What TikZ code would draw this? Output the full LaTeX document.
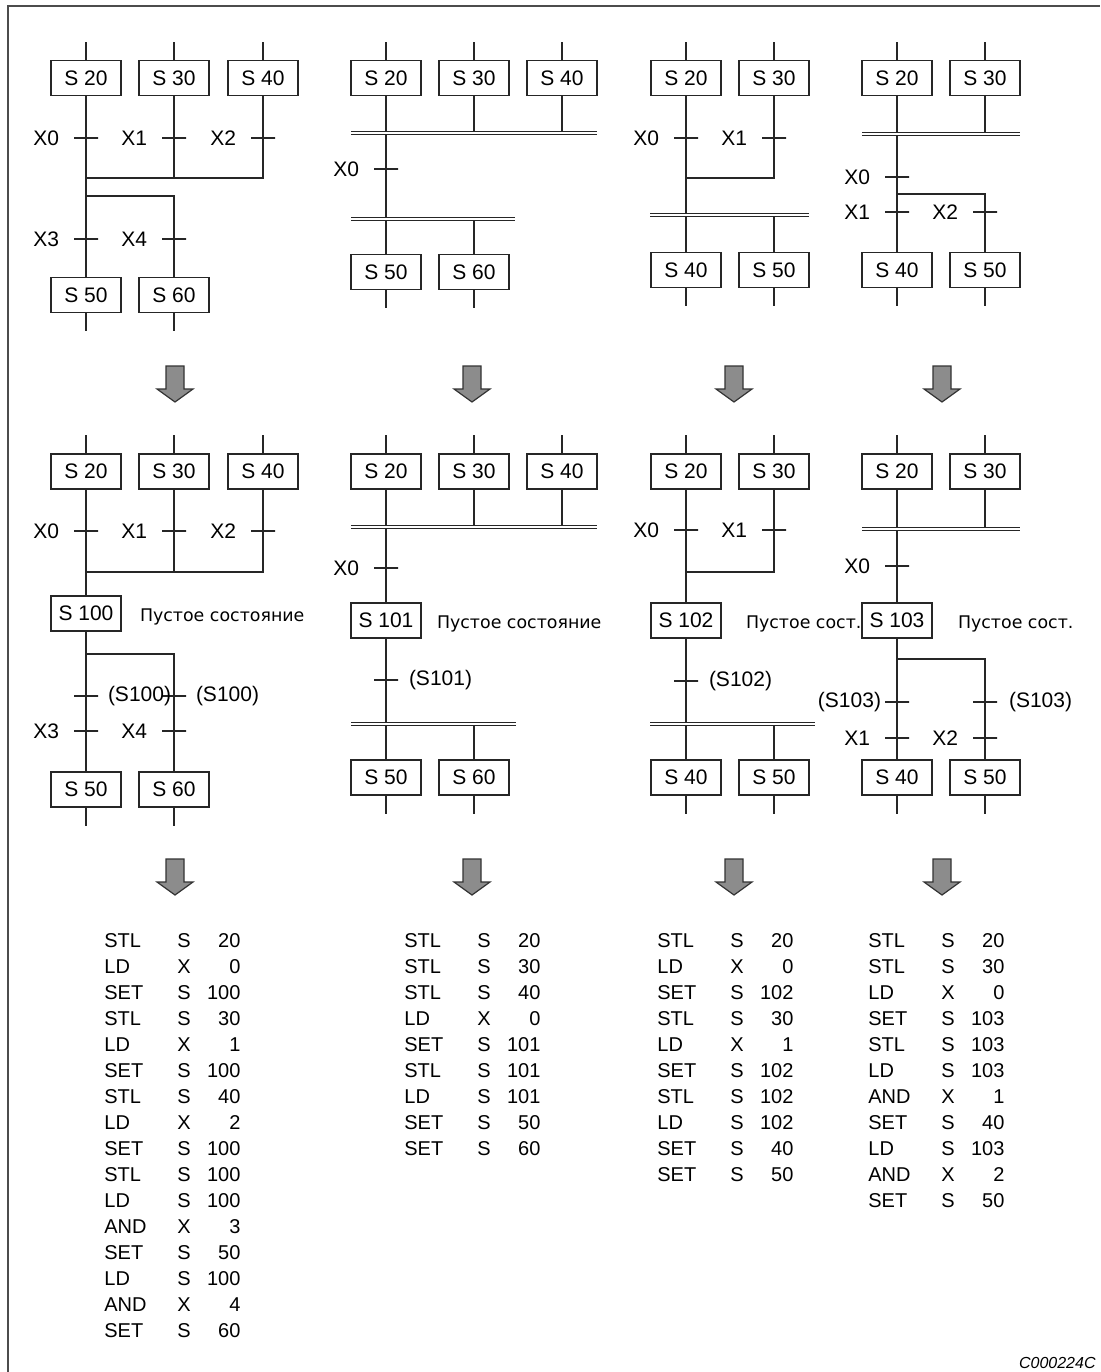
\documentclass[tikz,border=0pt]{standalone}
\usepackage{fontspec}
\setmainfont{Liberation Sans}
\newfontfamily\rusfont{DejaVu Sans}
\usetikzlibrary{positioning}
% fleche grise : #1 = x du centre, #2 = y du haut
\newcommand{\fleche}[2]{\filldraw[fill=black!45,draw=black!80,line width=0.6pt] (#1-9,#2) -- (#1+9,#2) -- (#1+9,#2+23) -- (#1+18,#2+23) -- (#1,#2+36) -- (#1-18,#2+23) -- (#1-9,#2+23) -- cycle;}
% ligne d'instruction
\newcommand{\instr}[3]{\makebox[36.5pt][l]{#1}\makebox[31.5pt]{#2\hfill#3}}
\begin{document}
\begin{tikzpicture}[x=0.5pt, y=-0.5pt,
    etat/.style={draw=black!85, line width=0.6pt, minimum width=35pt, minimum height=17.5pt, inner sep=0pt, font=\fontsize{10.5}{12}\selectfont},
    lbl/.style={inner sep=0pt, font=\fontsize{10.5}{12}\selectfont},
    tic/.style={draw=black!85, line width=0.6pt, minimum width=12pt, minimum height=0pt, inner sep=0pt},
    ligne/.style={draw=black!85, line width=0.6pt},
    barre/.style={draw=black!85, line width=0.5pt, double, double distance=1pt},
    vide/.style={inner sep=0pt, yshift=-1.8pt, font=\rusfont\fontsize{8.7}{10}\selectfont},
    liste/.style={inner sep=0pt, align=left, font=\fontsize{10}{13}\selectfont}]
\useasboundingbox (0,0) rectangle (1100,1372);
% Cadre
\draw[black!70, line width=1pt] (8,1372) -- (8,6) -- (1100,6);

% A1 : trois etats, divergence simple
\node[etat] (a1s20) at (86,78) {S 20};
\node[etat] (a1s30) at (174,78) {S 30};
\node[etat] (a1s40) at (263,78) {S 40};
\node[etat] (a1s50) at (86,295) {S 50};
\node[etat] (a1s60) at (174,295) {S 60};
\coordinate (a1m) at (86,178);
\coordinate (a1b) at (86,196);
\draw[ligne] (a1s20.north) -- ++(0,-18);
\draw[ligne] (a1s30.north) -- ++(0,-18);
\draw[ligne] (a1s40.north) -- ++(0,-18);
\draw[ligne] (a1s50.south) -- ++(0,18);
\draw[ligne] (a1s60.south) -- ++(0,18);
\draw[ligne] (a1s20) -- (a1s50);
\draw[ligne] (a1s30) -- (a1s30 |- a1m);
\draw[ligne] (a1s40.south) |- (a1m);
\draw[ligne] (a1b) -| (a1s60.north);
\node[tic] (a1t0) at (86,138) {};
\node[tic] (a1t1) at (174,138) {};
\node[tic] (a1t2) at (263,138) {};
\node[tic] (a1t3) at (86,239) {};
\node[tic] (a1t4) at (174,239) {};
\node[lbl, left=7pt of a1t0] (a1x0) {X0};
\node[lbl, left=7pt of a1t1] (a1x1) {X1};
\node[lbl, left=7pt of a1t2] (a1x2) {X2};
\node[lbl, left=7pt of a1t3] (a1x3) {X3};
\node[lbl, left=7pt of a1t4] (a1x4) {X4};

% B1 : convergence puis divergence paralleles
\node[etat] (b1s20) at (386,78) {S 20};
\node[etat] (b1s30) at (474,78) {S 30};
\node[etat] (b1s40) at (562,78) {S 40};
\node[etat] (b1s50) at (386,272) {S 50};
\node[etat] (b1s60) at (474,272) {S 60};
\coordinate (b1h) at (386,132.5);
\coordinate (b1k) at (386,218.5);
\draw[ligne] (b1s20.north) -- ++(0,-18);
\draw[ligne] (b1s30.north) -- ++(0,-18);
\draw[ligne] (b1s40.north) -- ++(0,-18);
\draw[ligne] (b1s50.south) -- ++(0,18);
\draw[ligne] (b1s60.south) -- ++(0,18);
\draw[ligne] (b1s20) -- (b1s50);
\draw[ligne] (b1s30) -- (b1s30 |- b1h);
\draw[ligne] (b1s40) -- (b1s40 |- b1h);
\draw[ligne] (b1s60) -- (b1s60 |- b1k);
\draw[barre] (351,132.5) -- (597,132.5);
\draw[barre] (351,218.5) -- (515,218.5);
\node[tic] (b1t0) at (386,169) {};
\node[lbl, left=7pt of b1t0] (b1x0) {X0};

% C1
\node[etat] (c1s20) at (686,78) {S 20};
\node[etat] (c1s30) at (774,78) {S 30};
\node[etat] (c1s40) at (686,270) {S 40};
\node[etat] (c1s50) at (774,270) {S 50};
\coordinate (c1m) at (686,178);
\coordinate (c1k) at (686,214.5);
\draw[ligne] (c1s20.north) -- ++(0,-18);
\draw[ligne] (c1s30.north) -- ++(0,-18);
\draw[ligne] (c1s40.south) -- ++(0,18);
\draw[ligne] (c1s50.south) -- ++(0,18);
\draw[ligne] (c1s20) -- (c1s40);
\draw[ligne] (c1s30.south) |- (c1m);
\draw[ligne] (c1s50) -- (c1s50 |- c1k);
\draw[barre] (650,214.5) -- (809,214.5);
\node[tic] (c1t0) at (686,138) {};
\node[tic] (c1t1) at (774,138) {};
\node[lbl, left=7pt of c1t0] (c1x0) {X0};
\node[lbl, left=7pt of c1t1] (c1x1) {X1};

% D1
\node[etat] (d1s20) at (897,78) {S 20};
\node[etat] (d1s30) at (985,78) {S 30};
\node[etat] (d1s40) at (897,270) {S 40};
\node[etat] (d1s50) at (985,270) {S 50};
\coordinate (d1h) at (897,133.5);
\coordinate (d1b) at (897,194);
\draw[ligne] (d1s20.north) -- ++(0,-18);
\draw[ligne] (d1s30.north) -- ++(0,-18);
\draw[ligne] (d1s40.south) -- ++(0,18);
\draw[ligne] (d1s50.south) -- ++(0,18);
\draw[ligne] (d1s20) -- (d1s40);
\draw[ligne] (d1s30) -- (d1s30 |- d1h);
\draw[ligne] (d1b) -| (d1s50.north);
\draw[barre] (862,133.5) -- (1020,133.5);
\node[tic] (d1t0) at (897,177) {};
\node[tic] (d1t1) at (897,212) {};
\node[tic] (d1t2) at (985,212) {};
\node[lbl, left=7pt of d1t0] (d1x0) {X0};
\node[lbl, left=7pt of d1t1] (d1x1) {X1};
\node[lbl, left=7pt of d1t2] (d1x2) {X2};

% Fleches
\fleche{175}{366}
\fleche{472}{366}
\fleche{734}{366}
\fleche{942}{366}

% A2 : avec etat vide S 100
\node[etat] (a2s20) at (86,471.5) {S 20};
\node[etat] (a2s30) at (174,471.5) {S 30};
\node[etat] (a2s40) at (263,471.5) {S 40};
\node[etat] (a2s100) at (86,613.5) {S 100};
\node[etat] (a2s50) at (86,789.5) {S 50};
\node[etat] (a2s60) at (174,789.5) {S 60};
\node[vide, right=9pt of a2s100] (a2v) {Пустое состояние};
\coordinate (a2m) at (86,572);
\coordinate (a2b) at (86,654);
\draw[ligne] (a2s20.north) -- ++(0,-18);
\draw[ligne] (a2s30.north) -- ++(0,-18);
\draw[ligne] (a2s40.north) -- ++(0,-18);
\draw[ligne] (a2s50.south) -- ++(0,18);
\draw[ligne] (a2s60.south) -- ++(0,18);
\draw[ligne] (a2s20) -- (a2s100);
\draw[ligne] (a2s30) -- (a2s30 |- a2m);
\draw[ligne] (a2s40.south) |- (a2m);
\draw[ligne] (a2s100) -- (a2s50);
\draw[ligne] (a2b) -| (a2s60.north);
\node[tic] (a2t0) at (86,531) {};
\node[tic] (a2t1) at (174,531) {};
\node[tic] (a2t2) at (263,531) {};
\node[tic] (a2t5) at (86,696) {};
\node[tic] (a2t6) at (174,696) {};
\node[tic] (a2t3) at (86,731) {};
\node[tic] (a2t4) at (174,731) {};
\node[lbl, left=7pt of a2t0] (a2x0) {X0};
\node[lbl, left=7pt of a2t1] (a2x1) {X1};
\node[lbl, left=7pt of a2t2] (a2x2) {X2};
\node[lbl, right=4.5pt of a2t5] (a2x5) {(S100)};
\node[lbl, right=4.5pt of a2t6] (a2x6) {(S100)};
\node[lbl, left=7pt of a2t3] (a2x3) {X3};
\node[lbl, left=7pt of a2t4] (a2x4) {X4};

% B2 : avec etat vide S 101
\node[etat] (b2s20) at (386,471.5) {S 20};
\node[etat] (b2s30) at (474,471.5) {S 30};
\node[etat] (b2s40) at (562,471.5) {S 40};
\node[etat] (b2s101) at (386,620.5) {S 101};
\node[etat] (b2s50) at (386,777.5) {S 50};
\node[etat] (b2s60) at (474,777.5) {S 60};
\node[vide, right=7.5pt of b2s101] (b2v) {Пустое состояние};
\coordinate (b2h) at (386,526.5);
\coordinate (b2k) at (386,723.5);
\draw[ligne] (b2s20.north) -- ++(0,-18);
\draw[ligne] (b2s30.north) -- ++(0,-18);
\draw[ligne] (b2s40.north) -- ++(0,-18);
\draw[ligne] (b2s50.south) -- ++(0,18);
\draw[ligne] (b2s60.south) -- ++(0,18);
\draw[ligne] (b2s20) -- (b2s101);
\draw[ligne] (b2s101) -- (b2s50);
\draw[ligne] (b2s30) -- (b2s30 |- b2h);
\draw[ligne] (b2s40) -- (b2s40 |- b2h);
\draw[ligne] (b2s60) -- (b2s60 |- b2k);
\draw[barre] (351,526.5) -- (597,526.5);
\draw[barre] (351,723.5) -- (516,723.5);
\node[tic] (b2t0) at (386,568) {};
\node[tic] (b2t5) at (386,680) {};
\node[lbl, left=7pt of b2t0] (b2x0) {X0};
\node[lbl, right=5pt of b2t5] (b2x5) {(S101)};

% C2 : avec etat vide S 102
\node[etat] (c2s20) at (686,471.5) {S 20};
\node[etat] (c2s30) at (774,471.5) {S 30};
\node[etat] (c2s102) at (686,620.5) {S 102};
\node[etat] (c2s40) at (686,777.5) {S 40};
\node[etat] (c2s50) at (774,777.5) {S 50};
\node[vide, right=12pt of c2s102] (c2v) {Пустое сост.};
\coordinate (c2m) at (686,572);
\coordinate (c2k) at (686,723.5);
\draw[ligne] (c2s20.north) -- ++(0,-18);
\draw[ligne] (c2s30.north) -- ++(0,-18);
\draw[ligne] (c2s40.south) -- ++(0,18);
\draw[ligne] (c2s50.south) -- ++(0,18);
\draw[ligne] (c2s20) -- (c2s102);
\draw[ligne] (c2s30.south) |- (c2m);
\draw[ligne] (c2s102) -- (c2s40);
\draw[ligne] (c2s50) -- (c2s50 |- c2k);
\draw[barre] (650,723.5) -- (815,723.5);
\node[tic] (c2t0) at (686,530) {};
\node[tic] (c2t1) at (774,530) {};
\node[tic] (c2t5) at (686,681) {};
\node[lbl, left=7pt of c2t0] (c2x0) {X0};
\node[lbl, left=7pt of c2t1] (c2x1) {X1};
\node[lbl, right=5pt of c2t5] (c2x5) {(S102)};

% D2 : avec etat vide S 103
\node[etat] (d2s20) at (897,471.5) {S 20};
\node[etat] (d2s30) at (985,471.5) {S 30};
\node[etat] (d2s103) at (897,620.5) {S 103};
\node[etat] (d2s40) at (897,777.5) {S 40};
\node[etat] (d2s50) at (985,777.5) {S 50};
\node[vide, right=12.5pt of d2s103] (d2v) {Пустое сост.};
\coordinate (d2h) at (897,528.5);
\coordinate (d2b) at (897,659);
\draw[ligne] (d2s20.north) -- ++(0,-18);
\draw[ligne] (d2s30.north) -- ++(0,-18);
\draw[ligne] (d2s40.south) -- ++(0,18);
\draw[ligne] (d2s50.south) -- ++(0,18);
\draw[ligne] (d2s20) -- (d2s103);
\draw[ligne] (d2s30) -- (d2s30 |- d2h);
\draw[ligne] (d2s103) -- (d2s40);
\draw[ligne] (d2b) -| (d2s50.north);
\draw[barre] (862,528.5) -- (1020,528.5);
\node[tic] (d2t0) at (897,566) {};
\node[tic] (d2t5) at (897,702) {};
\node[tic] (d2t6) at (985,702) {};
\node[tic] (d2t1) at (897,738) {};
\node[tic] (d2t2) at (985,738) {};
\node[lbl, left=7pt of d2t0] (d2x0) {X0};
\node[lbl, left=1.5pt of d2t5] (d2x5) {(S103)};
\node[lbl, right=5.5pt of d2t6] (d2x6) {(S103)};
\node[lbl, left=7pt of d2t1] (d2x1) {X1};
\node[lbl, left=7pt of d2t2] (d2x2) {X2};

% Fleches
\fleche{175}{859}
\fleche{472}{859}
\fleche{734}{859}
\fleche{942}{859}

% Listes d'instructions
\node[liste, anchor=north west] (la) at (104,933) {\instr{STL}{S}{20}\\ \instr{LD}{X}{0}\\ \instr{SET}{S}{100}\\ \instr{STL}{S}{30}\\ \instr{LD}{X}{1}\\ \instr{SET}{S}{100}\\ \instr{STL}{S}{40}\\ \instr{LD}{X}{2}\\ \instr{SET}{S}{100}\\ \instr{STL}{S}{100}\\ \instr{LD}{S}{100}\\ \instr{AND}{X}{3}\\ \instr{SET}{S}{50}\\ \instr{LD}{S}{100}\\ \instr{AND}{X}{4}\\ \instr{SET}{S}{60}};
\node[liste, anchor=north west] (lb) at (404,933) {\instr{STL}{S}{20}\\ \instr{STL}{S}{30}\\ \instr{STL}{S}{40}\\ \instr{LD}{X}{0}\\ \instr{SET}{S}{101}\\ \instr{STL}{S}{101}\\ \instr{LD}{S}{101}\\ \instr{SET}{S}{50}\\ \instr{SET}{S}{60}};
\node[liste, anchor=north west] (lc) at (657,933) {\instr{STL}{S}{20}\\ \instr{LD}{X}{0}\\ \instr{SET}{S}{102}\\ \instr{STL}{S}{30}\\ \instr{LD}{X}{1}\\ \instr{SET}{S}{102}\\ \instr{STL}{S}{102}\\ \instr{LD}{S}{102}\\ \instr{SET}{S}{40}\\ \instr{SET}{S}{50}};
\node[liste, anchor=north west] (ld) at (868,933) {\instr{STL}{S}{20}\\ \instr{STL}{S}{30}\\ \instr{LD}{X}{0}\\ \instr{SET}{S}{103}\\ \instr{STL}{S}{103}\\ \instr{LD}{S}{103}\\ \instr{AND}{X}{1}\\ \instr{SET}{S}{40}\\ \instr{LD}{S}{103}\\ \instr{AND}{X}{2}\\ \instr{SET}{S}{50}};

% Reference
\node[inner sep=0pt, anchor=base east, font=\itshape\fontsize{8}{9}\selectfont] (refc) at (1096,1368) {C000224C};
\end{tikzpicture}
\end{document}
